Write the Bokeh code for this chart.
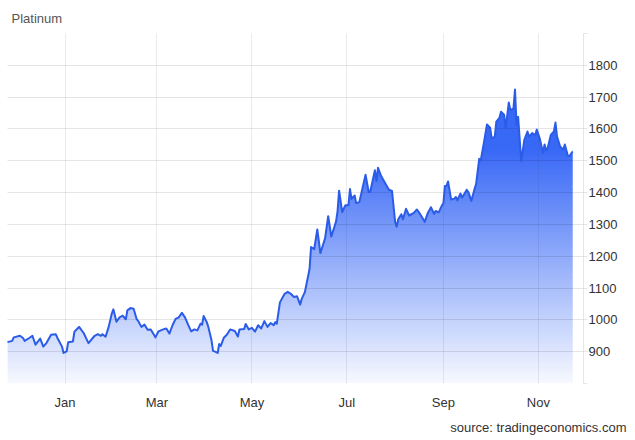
import numpy as np
from bokeh.plotting import figure
from bokeh.models import Range1d, FixedTicker, DatetimeTickFormatter, Title
from bokeh.embed import file_html
from bokeh.resources import INLINE

# ---- data ----
dates = [
    "2024-11-25", "2024-11-28", "2024-11-29", "2024-12-03", "2024-12-05", "2024-12-06",
    "2024-12-09", "2024-12-11", "2024-12-13", "2024-12-16", "2024-12-18", "2024-12-20",
    "2024-12-23", "2024-12-26", "2024-12-27", "2024-12-30", "2024-12-31", "2025-01-02",
    "2025-01-03", "2025-01-06", "2025-01-07", "2025-01-09", "2025-01-10", "2025-01-13",
    "2025-01-15", "2025-01-16", "2025-01-20", "2025-01-22", "2025-01-24", "2025-01-25",
    "2025-01-27", "2025-01-29", "2025-01-31", "2025-02-01", "2025-02-03", "2025-02-05",
    "2025-02-07", "2025-02-09", "2025-02-10", "2025-02-12", "2025-02-14", "2025-02-16",
    "2025-02-17", "2025-02-19", "2025-02-21", "2025-02-23", "2025-02-25", "2025-02-26",
    "2025-02-28", "2025-03-02", "2025-03-05", "2025-03-07", "2025-03-09", "2025-03-11",
    "2025-03-13", "2025-03-15", "2025-03-17", "2025-03-19", "2025-03-21", "2025-03-23",
    "2025-03-25", "2025-03-27", "2025-03-29", "2025-03-30", "2025-03-31", "2025-04-02",
    "2025-04-03", "2025-04-05", "2025-04-06", "2025-04-07", "2025-04-09", "2025-04-10",
    "2025-04-11", "2025-04-13", "2025-04-15", "2025-04-17", "2025-04-20", "2025-04-22",
    "2025-04-23", "2025-04-26", "2025-04-27", "2025-04-29", "2025-05-01", "2025-05-03",
    "2025-05-05", "2025-05-07", "2025-05-09", "2025-05-11", "2025-05-13", "2025-05-15",
    "2025-05-16", "2025-05-17", "2025-05-19", "2025-05-22", "2025-05-24", "2025-05-26",
    "2025-05-28", "2025-05-30", "2025-06-01", "2025-06-02", "2025-06-04", "2025-06-07",
    "2025-06-08", "2025-06-10", "2025-06-12", "2025-06-14", "2025-06-17", "2025-06-19",
    "2025-06-21", "2025-06-24", "2025-06-25", "2025-06-26", "2025-06-28", "2025-06-30",
    "2025-07-02", "2025-07-03", "2025-07-04", "2025-07-06", "2025-07-07", "2025-07-09",
    "2025-07-13", "2025-07-15", "2025-07-16", "2025-07-19", "2025-07-20", "2025-07-21",
    "2025-07-23", "2025-07-26", "2025-07-28", "2025-07-30", "2025-08-01", "2025-08-02",
    "2025-08-03", "2025-08-05", "2025-08-06", "2025-08-08", "2025-08-10", "2025-08-13",
    "2025-08-15", "2025-08-17", "2025-08-20", "2025-08-22", "2025-08-24", "2025-08-26",
    "2025-08-27", "2025-08-29", "2025-08-31", "2025-09-01", "2025-09-02", "2025-09-03",
    "2025-09-04", "2025-09-06", "2025-09-08", "2025-09-09", "2025-09-10", "2025-09-12",
    "2025-09-13", "2025-09-16", "2025-09-17", "2025-09-19", "2025-09-21", "2025-09-22",
    "2025-09-24", "2025-09-25", "2025-09-27", "2025-09-29", "2025-10-01", "2025-10-02",
    "2025-10-04", "2025-10-05", "2025-10-07", "2025-10-08", "2025-10-10", "2025-10-11",
    "2025-10-13", "2025-10-14", "2025-10-16", "2025-10-17", "2025-10-18", "2025-10-19",
    "2025-10-21", "2025-10-23", "2025-10-25", "2025-10-26", "2025-10-28", "2025-10-30",
    "2025-10-31", "2025-11-02", "2025-11-04", "2025-11-05", "2025-11-06", "2025-11-07",
    "2025-11-09", "2025-11-11", "2025-11-12", "2025-11-13", "2025-11-15", "2025-11-17",
    "2025-11-18", "2025-11-20", "2025-11-21", "2025-11-23",
]
values = [
    930, 934, 945, 950, 943, 934,
    943, 950, 922, 941, 916, 927,
    953, 955, 944, 916, 896, 901,
    930, 932, 963, 973, 978, 958,
    937, 927, 950, 955, 950, 955,
    947, 978, 1020, 1033, 994, 1008,
    1013, 1002, 1030, 1037, 1035, 1002,
    996, 978, 985, 969, 970, 962,
    945, 964, 970, 973, 957, 983,
    1003, 1008, 1022, 1008, 985, 964,
    970, 967, 988, 985, 1012, 993,
    978, 937, 903, 901, 896, 924,
    918, 944, 954, 970, 965, 948,
    970, 971, 987, 970, 975, 963,
    983, 973, 996, 978, 990, 983,
    993, 988, 1055, 1082, 1088, 1082,
    1072, 1074, 1048, 1066, 1087, 1159,
    1229, 1222, 1284, 1210, 1256, 1326,
    1262, 1308, 1341, 1406, 1339, 1360,
    1360, 1411, 1380, 1391, 1367, 1370,
    1456, 1402, 1402, 1470, 1437, 1478,
    1452, 1426, 1409, 1405, 1308, 1293,
    1316, 1332, 1316, 1349, 1328, 1336,
    1347, 1333, 1308, 1336, 1354, 1333,
    1342, 1338, 1359, 1366, 1421, 1421,
    1435, 1378, 1381, 1386, 1376, 1397,
    1384, 1409, 1402, 1374, 1411, 1427,
    1506, 1501, 1556, 1614, 1604, 1571,
    1575, 1623, 1635, 1654, 1645, 1602,
    1683, 1660, 1664, 1724, 1612, 1638,
    1499, 1566, 1592, 1576, 1587, 1581,
    1598, 1568, 1525, 1551, 1533, 1540,
    1581, 1592, 1620, 1576, 1545, 1535,
    1551, 1515, 1515, 1529,
]
month_ticks = ["2025-01-01", "2025-03-01", "2025-05-01", "2025-07-01", "2025-09-01", "2025-11-01"]
y_ticks = [800, 900, 1000, 1100, 1200, 1300, 1400, 1500, 1600, 1700, 1800, 1900]
y_hidden_labels = [800, 1900]
x_start, x_end = "2024-11-25", "2025-11-30"
y_start, y_end = 800, 1900
title_text = "Platinum"
source_text = "source: tradingeconomics.com"

FONT = "Liberation Sans"
x = np.array(dates, dtype="datetime64[ms]")
v = np.array(values, dtype=float)
n = len(v)
tick_ms = [int(np.datetime64(d, "ms").astype(np.int64)) for d in month_ticks]

p = figure(width=630, height=440, x_axis_type="datetime", y_axis_location="right",
           x_range=Range1d(np.datetime64(x_start, "ms"), np.datetime64(x_end, "ms")),
           y_range=Range1d(y_start, y_end),
           output_backend="svg", toolbar_location=None,
           min_border_left=7, min_border_right=47, min_border_top=33, min_border_bottom=51,
           background_fill_color="white", border_fill_color="white")
p.outline_line_color = None

# title
p.title.text = title_text
p.title.text_font = FONT
p.title.text_font_size = "13px"
p.title.text_font_style = "normal"
p.title.text_color = "#555555"
p.title.align = "left"
p.title.offset = 4
p.title.standoff = 16

# gradient area: horizontal colour bands (each limited to the span where the
# series reaches it), then a white mask above the series line
blue = (56, 104, 246)
vmax = v.max()
step = 4.0
b_lo, b_hi, b_left, b_right, b_col = [], [], [], [], []
for lo in np.arange(y_start, vmax, step):
    above = np.nonzero(v >= lo)[0]
    if len(above) == 0:
        continue
    i0 = max(above[0] - 1, 0)
    i1 = min(above[-1] + 1, n - 1)
    t = min(1.0, (lo + step / 2 - y_start) / (vmax - y_start))
    a = min(1.0, 0.04 + 1.2 * t)
    b_col.append("#%02x%02x%02x" % tuple(int(round(255 * (1 - a) + c * a)) for c in blue))
    b_lo.append(lo)
    b_hi.append(lo + step * 1.6)
    b_left.append(x[i0])
    b_right.append(x[i1])
p.quad(left=b_left, right=b_right, bottom=b_lo, top=b_hi, fill_color=b_col, line_color=None)
p.varea(x=x, y1=v, y2=float(y_end), fill_color="white", fill_alpha=1.0)

p.line(x, v, line_color="#2a5ce8", line_width=2, line_join="round", level="annotation")

# grids
p.xgrid.ticker = FixedTicker(ticks=tick_ms)
p.xgrid.grid_line_color = "#2b3f66"
p.xgrid.grid_line_alpha = 0.1
p.xgrid.level = "guide"
p.ygrid.ticker = FixedTicker(ticks=y_ticks)
p.ygrid.grid_line_color = "#000000"
p.ygrid.grid_line_alpha = 0.1
p.ygrid.level = "guide"

# y axis (right)
ya = p.yaxis[0]
ya.ticker = FixedTicker(ticks=y_ticks)
ya.major_label_overrides = {k: "" for k in y_hidden_labels}
ya.axis_line_color = "#e6e6e6"
ya.major_tick_line_color = "#e6e6e6"
ya.major_tick_out = 4
ya.major_tick_in = 0
ya.minor_tick_line_color = None
ya.major_label_standoff = 1
ya.major_label_text_font = FONT
ya.major_label_text_font_size = "13px"
ya.major_label_text_color = "#333333"

# x axis
xa = p.xaxis[0]
xa.ticker = FixedTicker(ticks=tick_ms)
xa.formatter = DatetimeTickFormatter(days="%b", months="%b", years="%b")
xa.axis_line_color = None
xa.major_tick_line_color = None
xa.minor_tick_line_color = None
xa.major_label_standoff = 5
xa.major_label_text_font = FONT
xa.major_label_text_font_size = "13px"
xa.major_label_text_color = "#333333"

src = Title(text=source_text, align="right", text_font=FONT, text_font_size="13px",
            text_font_style="normal", text_color="#333333", standoff=11, offset=-43)
p.add_layout(src, "below")

open("out.html", "w").write(file_html(p, INLINE))
